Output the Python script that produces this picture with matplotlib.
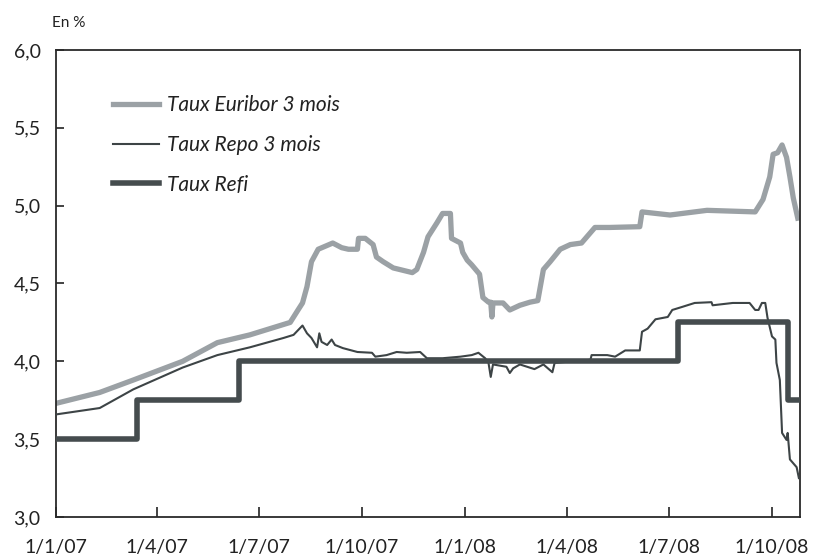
import matplotlib
matplotlib.use("Agg")
import matplotlib.pyplot as plt
import pandas as pd

plt.rcParams['font.family'] = ['Lato', 'DejaVu Sans']

euribor_dates = ["2007-01-01", "2007-02-09", "2007-03-11", "2007-04-24", "2007-05-25", "2007-06-23",
                 "2007-07-11", "2007-07-29", "2007-08-05", "2007-08-09", "2007-08-13", "2007-08-17",
                 "2007-08-23", "2007-09-05", "2007-09-13", "2007-09-19", "2007-09-27", "2007-09-28",
                 "2007-10-04", "2007-10-11", "2007-10-14", "2007-10-20", "2007-10-29", "2007-11-15",
                 "2007-11-19", "2007-11-25", "2007-11-29", "2007-12-07", "2007-12-12", "2007-12-19",
                 "2007-12-20", "2007-12-28", "2007-12-30", "2008-01-03", "2008-01-07", "2008-01-14",
                 "2008-01-17", "2008-01-22", "2008-01-24", "2008-01-25", "2008-01-26", "2008-02-04",
                 "2008-02-10", "2008-02-19", "2008-02-28", "2008-03-06", "2008-03-11", "2008-03-17",
                 "2008-03-26", "2008-04-04", "2008-04-14", "2008-04-26", "2008-05-09", "2008-06-05",
                 "2008-06-07", "2008-07-02", "2008-08-04", "2008-09-16", "2008-09-23", "2008-09-29",
                 "2008-10-02", "2008-10-06", "2008-10-10", "2008-10-14", "2008-10-17", "2008-10-20",
                 "2008-10-24"]
euribor_values = [3.73, 3.80, 3.88, 4.00, 4.12, 4.17,
                  4.21, 4.25, 4.33, 4.375, 4.48, 4.64,
                  4.72, 4.76, 4.73, 4.72, 4.72, 4.79,
                  4.79, 4.75, 4.67, 4.64, 4.60, 4.57,
                  4.59, 4.70, 4.80, 4.89, 4.95, 4.95,
                  4.79, 4.76, 4.70, 4.65, 4.62, 4.56,
                  4.41, 4.38, 4.38, 4.285, 4.375, 4.375,
                  4.33, 4.36, 4.38, 4.39, 4.59, 4.64,
                  4.72, 4.75, 4.76, 4.86, 4.86, 4.865,
                  4.96, 4.94, 4.97, 4.96, 5.04, 5.185,
                  5.33, 5.34, 5.39, 5.31, 5.185, 5.05,
                  4.92]

repo_dates = ["2007-01-02", "2007-02-09", "2007-03-11", "2007-04-24", "2007-05-25", "2007-06-23",
              "2007-07-23", "2007-08-01", "2007-08-05", "2007-08-09", "2007-08-13", "2007-08-17",
              "2007-08-22", "2007-08-24", "2007-08-26", "2007-08-31", "2007-09-04", "2007-09-07",
              "2007-09-14", "2007-09-27", "2007-10-10", "2007-10-13", "2007-10-23", "2007-11-01",
              "2007-11-10", "2007-11-22", "2007-11-28", "2007-12-12", "2007-12-28", "2008-01-07",
              "2008-01-13", "2008-01-19", "2008-01-22", "2008-01-24", "2008-01-26", "2008-02-07",
              "2008-02-10", "2008-02-13", "2008-02-19", "2008-03-03", "2008-03-11", "2008-03-19",
              "2008-03-21", "2008-04-22", "2008-04-23", "2008-05-07", "2008-05-14", "2008-05-23",
              "2008-06-05", "2008-06-07", "2008-06-12", "2008-06-19", "2008-06-30", "2008-07-04",
              "2008-07-13", "2008-07-24", "2008-08-08", "2008-08-09", "2008-08-27", "2008-09-11",
              "2008-09-16", "2008-09-19", "2008-09-22", "2008-09-25", "2008-09-27", "2008-10-01",
              "2008-10-04", "2008-10-05", "2008-10-08", "2008-10-10", "2008-10-14", "2008-10-15",
              "2008-10-17", "2008-10-23", "2008-10-25"]
repo_values = [3.66, 3.70, 3.82, 3.96, 4.04, 4.09,
               4.15, 4.17, 4.20, 4.23, 4.18, 4.15,
               4.09, 4.18, 4.125, 4.105, 4.14, 4.105,
               4.085, 4.06, 4.055, 4.03, 4.04, 4.06,
               4.055, 4.06, 4.02, 4.02, 4.03, 4.04,
               4.055, 4.02, 3.99, 3.90, 3.98, 3.965,
               3.925, 3.955, 3.98, 3.95, 3.98, 3.93,
               3.99, 4.01, 4.04, 4.04, 4.03, 4.07,
               4.07, 4.19, 4.21, 4.27, 4.285, 4.33,
               4.35, 4.375, 4.38, 4.36, 4.375, 4.375,
               4.33, 4.33, 4.375, 4.375, 4.28, 4.16,
               4.14, 3.99, 3.88, 3.54, 3.495, 3.54,
               3.37, 3.32, 3.25]

refi_dates = ["2007-01-01", "2007-03-14", "2007-06-13", "2008-07-09", "2008-10-15", "2008-10-31"]
refi_values = [3.50, 3.75, 4.00, 4.25, 3.75, 3.75]

xtick_dates = ["2007-01-01", "2007-04-01", "2007-07-01", "2007-10-01",
               "2008-01-01", "2008-04-01", "2008-07-01", "2008-10-01"]
xtick_labels = ["1/1/07", "1/4/07", "1/7/07", "1/10/07", "1/1/08", "1/4/08", "1/7/08", "1/10/08"]
ytick_values = [3.0, 3.5, 4.0, 4.5, 5.0, 5.5, 6.0]
ytick_labels = ["3,0", "3,5", "4,0", "4,5", "5,0", "5,5", "6,0"]

labels = ["Taux Euribor 3 mois", "Taux Repo 3 mois", "Taux Refi"]

fig = plt.figure(figsize=(8.16, 5.6), dpi=100)
ax = fig.add_axes([56/816, 43/560, 744/816, 467/560])

ax.plot(pd.to_datetime(euribor_dates), euribor_values, color="#9ba1a5", lw=3.8,
        solid_joinstyle="round", label=labels[0], zorder=2)
ax.plot(pd.to_datetime(repo_dates), repo_values, color="#3d4446", lw=1.5,
        label=labels[1], zorder=3)
ax.plot(pd.to_datetime(refi_dates), refi_values, color="#454c4e", lw=4.0,
        drawstyle="steps-post", label=labels[2], zorder=4)

ax.set_xlim(pd.Timestamp("2007-01-01"), pd.Timestamp("2008-10-26"))
ax.set_ylim(3.0, 6.0)
ax.set_xticks(pd.to_datetime(xtick_dates))
ax.set_xticklabels(xtick_labels)
ax.set_yticks(ytick_values)
ax.set_yticklabels(ytick_labels)

ax.tick_params(axis="x", direction="in", length=7, width=1.2, pad=16, labelsize=14, colors="#222222")
ax.tick_params(axis="y", direction="in", length=6, width=1.2, pad=11, labelsize=14, colors="#222222")
for s in ax.spines.values():
    s.set_linewidth(1.3)
    s.set_color("#2a2a2a")

fig.text(52/816, 1 - 23/560, "En %", fontsize=11, va="center", ha="left", color="#222222")

leg = ax.legend(loc="upper left", bbox_to_anchor=(0.0766, 0.9036), frameon=False,
                prop={"style": "italic", "size": 15}, handlelength=2.2, handletextpad=0.4,
                labelspacing=0.95, borderpad=0, borderaxespad=0)
for t in leg.get_texts():
    t.set_color("#222222")

fig.savefig("out.png", dpi=100)
